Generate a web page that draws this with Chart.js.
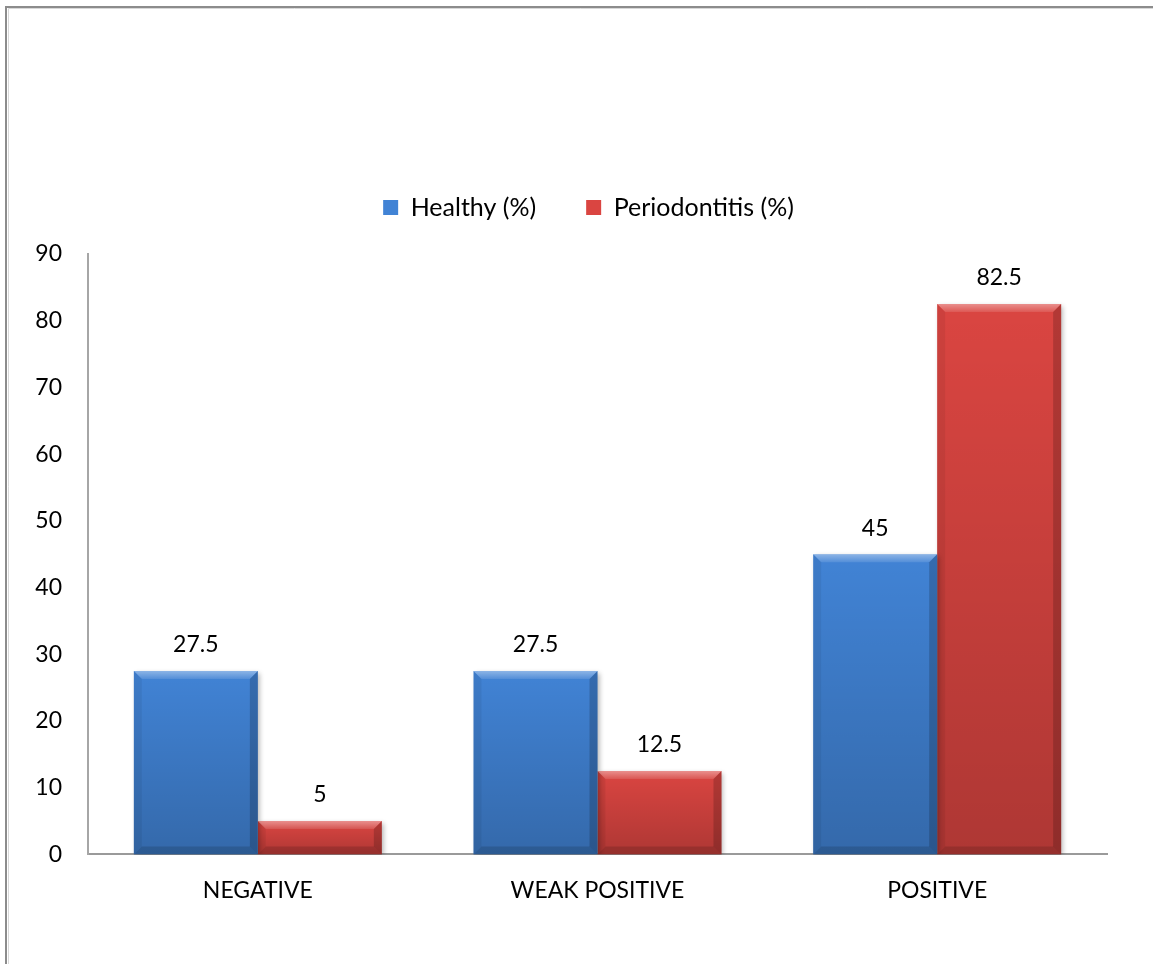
<!DOCTYPE html>
<html>
<head>
<meta charset="utf-8">
<script src="https://cdn.jsdelivr.net/npm/chart.js@4"></script>
<style>
  html, body { margin: 0; padding: 0; background: #fff; }
  #wrap { width: 1153px; height: 964px; position: relative; }
</style>
</head>
<body>
<div id="wrap"><canvas id="c" width="1153" height="964"></canvas></div>
<script>
// Response categories and percentages per group
const categories = ['NEGATIVE', 'WEAK POSITIVE', 'POSITIVE'];
const healthy = [27.5, 27.5, 45];
const periodontitis = [5, 12.5, 82.5];
const yTicks = [0, 10, 20, 30, 40, 50, 60, 70, 80, 90];

const FONT = 'Lato, "Open Sans", sans-serif';
const LEGEND_HEIGHT = 109;
const LEGEND_SHIFT = -9;

// Thin frame along the top and left edge of the page
const framePlugin = {
  id: 'frame',
  beforeDraw(chart) {
    const ctx = chart.ctx;
    ctx.save();
    ctx.fillStyle = '#ffffff';
    ctx.fillRect(0, 0, chart.width, chart.height);
    ctx.strokeStyle = '#8c8c8c';
    ctx.lineWidth = 2;
    ctx.beginPath();
    ctx.moveTo(6, chart.height);
    ctx.lineTo(6, 7);
    ctx.lineTo(chart.width, 7);
    ctx.stroke();
    ctx.strokeStyle = '#d8d8d8';
    ctx.lineWidth = 1;
    ctx.beginPath();
    ctx.moveTo(8.5, chart.height);
    ctx.lineTo(8.5, 8.5);
    ctx.lineTo(chart.width, 8.5);
    ctx.stroke();
    ctx.restore();
  }
};

// Reserve a fixed band for the legend above the plot and nudge it sideways
const legendSpacePlugin = {
  id: 'legendSpace',
  beforeLayout(chart) {
    const lg = chart.legend;
    if (lg && !lg._fixedFit) {
      const fit = lg.fit.bind(lg);
      lg.fit = function () {
        fit();
        this.height = LEGEND_HEIGHT;
      };
      lg._fixedFit = true;
    }
  },
  afterLayout(chart) {
    const lg = chart.legend;
    if (lg) {
      lg.left += LEGEND_SHIFT;
      lg.right += LEGEND_SHIFT;
    }
  }
};

// Soft drop shadow under the bars
const shadowPlugin = {
  id: 'barShadow',
  beforeDatasetsDraw(chart) {
    const ctx = chart.ctx;
    ctx.save();
    ctx.shadowColor = 'rgba(0,0,0,0.3)';
    ctx.shadowBlur = 5;
    ctx.shadowOffsetX = 2;
    ctx.shadowOffsetY = 2;
  },
  afterDatasetsDraw(chart) {
    chart.ctx.restore();
  }
};

// Bevelled edges, shading and value labels on every bar
const bevelPlugin = {
  id: 'bevel',
  afterDatasetsDraw(chart) {
    const ctx = chart.ctx;
    chart.data.datasets.forEach((ds, di) => {
      const meta = chart.getDatasetMeta(di);
      meta.data.forEach((bar, i) => {
        const l = bar.x - bar.width / 2;
        const r = bar.x + bar.width / 2;
        const t = bar.y;
        const b = bar.base;
        const h = b - t;
        const e = Math.min(8, h / 2);
        ctx.save();
        // vertical shading
        const g = ctx.createLinearGradient(0, t, 0, b);
        g.addColorStop(0, 'rgba(0,0,0,0)');
        g.addColorStop(1, 'rgba(0,0,0,0.2)');
        ctx.fillStyle = g;
        ctx.fillRect(l, t, r - l, h);
        // top bevel
        const gt = ctx.createLinearGradient(0, t, 0, t + e);
        gt.addColorStop(0, 'rgba(255,255,255,0.4)');
        gt.addColorStop(1, 'rgba(255,255,255,0.1)');
        ctx.fillStyle = gt;
        ctx.beginPath();
        ctx.moveTo(l, t); ctx.lineTo(r, t); ctx.lineTo(r - e, t + e); ctx.lineTo(l + e, t + e);
        ctx.closePath(); ctx.fill();
        // left bevel
        ctx.fillStyle = 'rgba(0,0,0,0.06)';
        ctx.beginPath();
        ctx.moveTo(l, t); ctx.lineTo(l + e, t + e); ctx.lineTo(l + e, b - e); ctx.lineTo(l, b);
        ctx.closePath(); ctx.fill();
        // right bevel
        ctx.fillStyle = 'rgba(0,0,0,0.18)';
        ctx.beginPath();
        ctx.moveTo(r, t); ctx.lineTo(r - e, t + e); ctx.lineTo(r - e, b - e); ctx.lineTo(r, b);
        ctx.closePath(); ctx.fill();
        // bottom bevel
        ctx.fillStyle = 'rgba(0,0,0,0.14)';
        ctx.beginPath();
        ctx.moveTo(l, b); ctx.lineTo(l + e, b - e); ctx.lineTo(r - e, b - e); ctx.lineTo(r, b);
        ctx.closePath(); ctx.fill();
        ctx.restore();

        // value label
        ctx.save();
        ctx.fillStyle = '#000';
        ctx.font = '23px ' + FONT;
        ctx.textAlign = 'center';
        ctx.textBaseline = 'middle';
        ctx.fillText(String(ds.data[i]), bar.x, t - 26);
        ctx.restore();
      });
    });
  }
};

new Chart(document.getElementById('c'), {
  type: 'bar',
  data: {
    labels: categories,
    datasets: [
      { label: 'Healthy (%)', data: healthy, backgroundColor: '#4183d5', borderWidth: 0 },
      { label: 'Periodontitis (%)', data: periodontitis, backgroundColor: '#da4541', borderWidth: 0 }
    ]
  },
  options: {
    responsive: false,
    animation: false,
    devicePixelRatio: 1,
    categoryPercentage: 0.73,
    barPercentage: 1,
    layout: { padding: { top: 145, right: 46, bottom: 38, left: 0 } },
    plugins: {
      legend: {
        display: true,
        position: 'top',
        fullSize: false,
        labels: {
          font: { family: FONT, size: 25 },
          color: '#000',
          boxWidth: 15,
          boxHeight: 15,
          padding: 50,
          generateLabels(chart) {
            return chart.data.datasets.map((ds, i) => ({
              text: ds.label,
              fillStyle: ds.backgroundColor,
              strokeStyle: ds.backgroundColor,
              lineWidth: 0,
              hidden: false,
              datasetIndex: i,
              fontColor: '#000'
            }));
          }
        }
      },
      tooltip: { enabled: false }
    },
    scales: {
      x: {
        grid: { display: false, drawTicks: false },
        border: { display: true, color: '#9a9a9a', width: 2 },
        ticks: { font: { family: FONT, size: 23 }, color: '#000', padding: 22 }
      },
      y: {
        min: 0,
        max: 90,
        afterBuildTicks(scale) { scale.ticks = yTicks.map(v => ({ value: v })); },
        afterFit(scale) { scale.width = 88; },
        grid: { display: false, drawTicks: false },
        border: { display: true, color: '#a6a6a6', width: 2 },
        ticks: { font: { family: FONT, size: 23 }, color: '#000', padding: 26 }
      }
    }
  },
  plugins: [framePlugin, legendSpacePlugin, shadowPlugin, bevelPlugin]
});
</script>
</body>
</html>
